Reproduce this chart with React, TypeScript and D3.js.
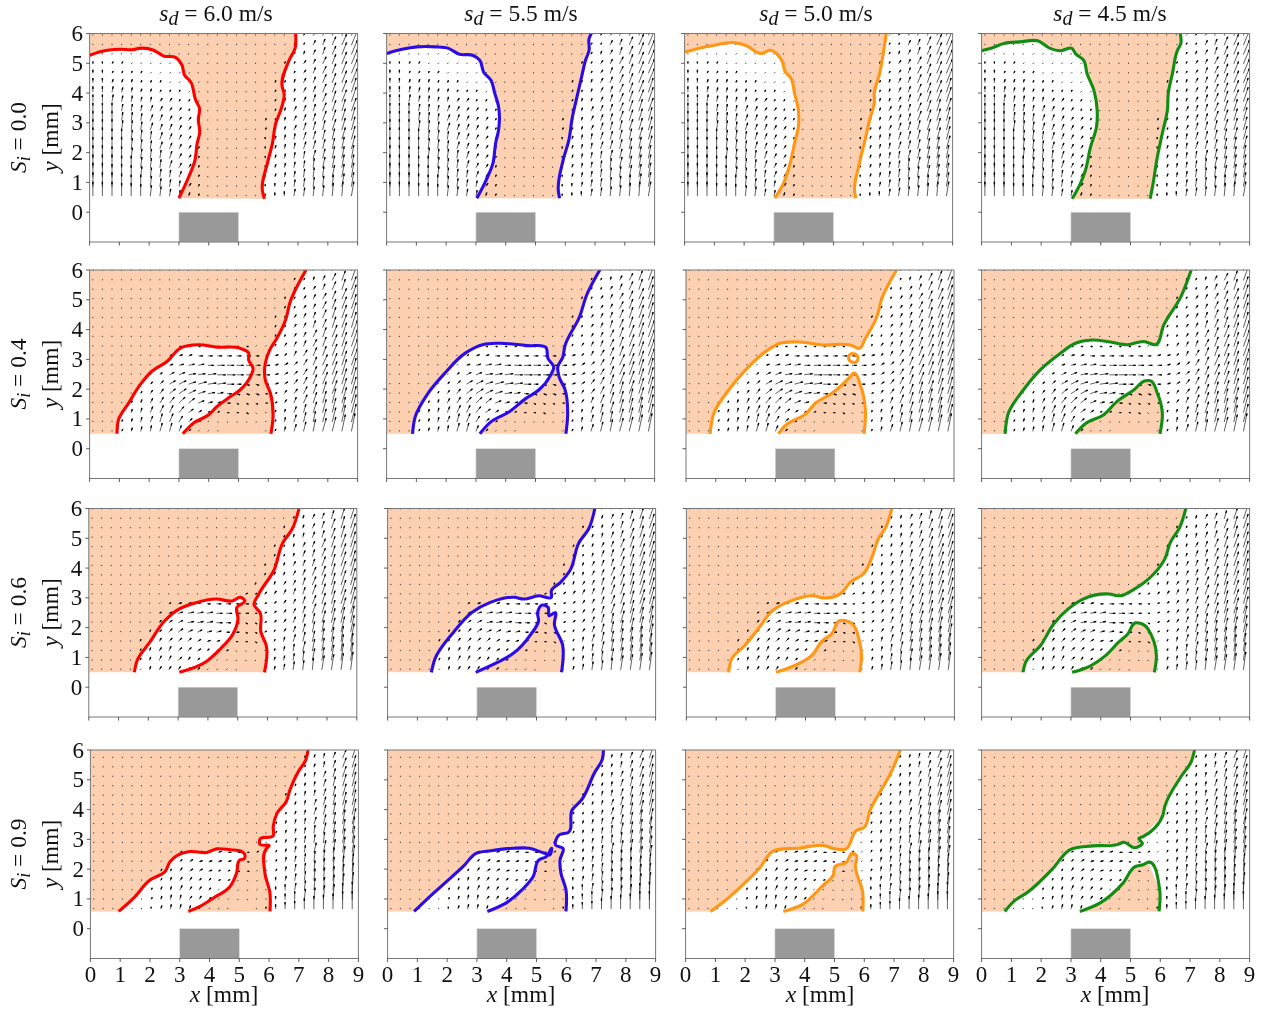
import React from "react";
import * as d3 from "d3";

type P = [number, number];

const speedLabels = ["6.0", "5.5", "5.0", "4.5"];
const swirlLabels = ["0.0", "0.4", "0.6", "0.9"];
const lineColors = ["#ff0000", "#2a0ce8", "#ff9614", "#128c12"];
const xTicks = [0, 1, 2, 3, 4, 5, 6, 7, 8, 9];
const yTicks = [0, 1, 2, 3, 4, 5, 6];
const panelLefts = [
  [89.6, 386.6, 684.6, 981.6],
  [89.6, 386.6, 686, 981.6],
  [88.8, 387.6, 686.4, 981.6],
  [90.4, 387.6, 685.6, 981.6],
];
const panelTops = [33.5, 270, 508.5, 750];
const baseY = [0.46, 0.5, 0.5, 0.58];
const titleX = [216, 521, 816, 1110];
const xLabelX = [224, 521, 820, 1115];

// Flame-front contours (x mm, y mm)
const r1c1A: P[] = [[0,5.27],[.36,5.39],[1.03,5.47],[1.48,5.46],[1.65,5.5],[2.15,5.44],[2.49,5.24],[2.88,5.2],[3.1,4.94],[3.19,4.6],[3.39,4.38],[3.56,3.77],[3.69,3.49],[3.65,3.1],[3.7,2.7],[3.61,2.3],[3.54,1.75],[3.33,1.19],[3,.47]];
const r1c1B: P[] = [[5.87,.45],[5.8,.75],[5.97,1.64],[6.14,2.31],[6.25,2.98],[6.42,3.43],[6.53,4],[6.47,4.2],[6.7,5.1],[6.9,5.5],[6.92,6]];
const r1c2A: P[] = [[0,5.33],[.52,5.47],[1.02,5.55],[1.64,5.55],[2.08,5.5],[2.45,5.3],[2.89,5.27],[3.13,5.1],[3.26,4.7],[3.5,4.44],[3.63,4],[3.76,3.54],[3.76,2.76],[3.66,2.31],[3.57,1.64],[3.32,1.03],[3.03,.47]];
const r1c2B: P[] = [[5.81,.47],[5.77,.69],[5.93,1.75],[6.12,2.42],[6.24,3.2],[6.37,3.77],[6.55,4.55],[6.68,5.1],[6.8,5.44],[6.8,5.83],[6.87,6]];
const r1c3A: P[] = [[0,5.38],[.46,5.5],[.96,5.6],[1.7,5.69],[2.08,5.59],[2.57,5.33],[2.89,5.44],[3.26,5.1],[3.38,4.72],[3.57,4.5],[3.69,4],[3.82,3.43],[3.82,2.87],[3.69,2.31],[3.57,1.75],[3.32,.97],[3.03,.47]];
const r1c3B: P[] = [[5.75,.47],[5.71,.69],[5.87,1.64],[6.06,2.42],[6.24,3.2],[6.37,3.65],[6.37,4],[6.55,4.66],[6.68,5.39],[6.77,6]];
const r1c4A: P[] = [[0,5.42],[.39,5.53],[.73,5.66],[1.29,5.72],[1.91,5.75],[2.3,5.5],[2.64,5.42],[3.04,5.5],[3.15,5.33],[3.43,5.1],[3.54,4.66],[3.77,4.1],[3.88,3.43],[3.86,2.87],[3.66,2.2],[3.49,1.42],[3.32,.97],[3.04,.45]];
const r1c4B: P[] = [[5.66,.45],[5.74,.86],[5.91,1.9],[6.07,2.65],[6.24,3.43],[6.27,4],[6.41,4.66],[6.58,5.44],[6.69,5.66],[6.67,6]];

const r2c1A: P[] = [[.92,.5],[.97,.97],[1.31,1.53],[1.7,2.15],[2.09,2.6],[2.6,2.93],[3.05,3.38],[3.66,3.49],[4.28,3.41],[5.06,3.37],[5.34,3.21],[5.34,2.98],[5.49,2.7],[5.4,2.42],[5.06,1.98],[4.73,1.75],[4.28,1.42],[4,1.14],[3.49,.86],[3.13,.5]];
const r2c1B: P[] = [[6.09,.5],[6.16,1.08],[6.07,1.87],[5.9,2.31],[5.9,2.87],[6.05,3.32],[6.29,3.71],[6.58,4.32],[6.74,4.94],[7.02,5.55],[7.27,6]];
const r2c2A: P[] = [[.87,.5],[.96,1.07],[1.39,1.86],[1.95,2.53],[2.63,3.2],[3.25,3.5],[3.75,3.54],[4.74,3.46],[5.36,3.39],[5.42,3.03],[5.61,2.75],[5.48,2.42],[5.11,1.97],[4.68,1.69],[4.12,1.24],[3.5,.9],[3.13,.5]];
const r2c2B: P[] = [[6.02,.5],[6.08,1.13],[5.98,2.02],[5.79,2.42],[5.75,2.75],[5.92,3.08],[5.98,3.42],[6.48,4.43],[6.72,5.16],[7.16,6]];
const r2c3A: P[] = [[.81,.5],[.93,1.18],[1.43,1.97],[2.05,2.7],[2.67,3.26],[3.16,3.54],[3.66,3.59],[4.65,3.48],[5.52,3.48],[5.83,3.37],[6.02,3.7],[6.39,4.38],[6.58,5.05],[7.07,6]];
const r2c3B: P[] = [[3.1,.5],[3.35,.79],[4.03,1.18],[4.34,1.52],[4.9,1.86],[5.52,2.42],[5.62,2.53],[5.89,2.03],[6.02,1.35],[5.98,.5]];
const r2c3Ring: P[] = [[5.62,3.2],[5.74,3.14],[5.78,3.03],[5.72,2.92],[5.6,2.9],[5.49,2.96],[5.46,3.08],[5.52,3.17],[5.62,3.2]];
const r2c4A: P[] = [[.79,.5],[.9,1.2],[1.4,1.97],[1.97,2.65],[2.64,3.2],[3.15,3.54],[3.7,3.65],[4.33,3.58],[4.89,3.49],[5.45,3.6],[5.84,3.49],[6.12,4.16],[6.69,5.1],[7.04,6]];
const r2c4B: P[] = [[3.15,.5],[3.48,.84],[4.1,1.14],[4.55,1.59],[5.11,1.97],[5.5,2.28],[5.67,2.28],[5.9,1.87],[6.07,1.2],[5.99,.5]];

const r3c1A: P[] = [[1.53,.5],[1.62,.89],[2.05,1.51],[2.55,2.23],[3.04,2.63],[3.54,2.82],[4.29,2.96],[4.84,2.9],[5.09,3.02],[5.24,2.9],[4.97,2.68],[5.01,2.29],[4.84,1.79],[4.41,1.28],[3.91,.84],[3.04,.5]];
const r3c1B: P[] = [[5.9,.5],[5.96,1.4],[5.78,1.85],[5.75,2.51],[5.55,2.76],[5.71,3.13],[6.21,3.91],[6.52,4.86],[6.83,5.31],[7.06,6]];
const r3c2A: P[] = [[1.47,.5],[1.59,.95],[2.21,1.84],[2.83,2.51],[3.45,2.85],[4.26,3.02],[4.57,2.96],[5.07,3.07],[5.5,3.02],[5.5,3.24],[5.81,3.52],[6.12,3.91],[6.43,4.86],[6.75,5.31],[6.96,6]];
const r3c2B: P[] = [[2.96,.5],[3.7,.84],[4.2,1.12],[4.82,1.79],[5.07,2.23],[5.04,2.51],[5.2,2.76],[5.39,2.68],[5.42,2.4],[5.63,2.51],[5.6,2.12],[5.88,1.4],[5.84,.5]];
const r3c3A: P[] = [[1.42,.5],[1.52,.95],[1.96,1.4],[2.45,2.01],[2.89,2.57],[3.51,2.9],[4.26,3.07],[4.57,3],[5.19,3.15],[5.5,3.52],[5.94,3.8],[6.25,4.41],[6.44,4.97],[6.69,5.36],[6.9,6]];
const r3c3B: P[] = [[3.01,.5],[3.76,.78],[4.2,1.06],[4.57,1.56],[4.88,1.79],[5.13,2.23],[5.5,2.18],[5.82,1.51],[5.88,1.06],[5.82,.5]];
const r3c4A: P[] = [[1.39,.5],[1.48,.84],[1.98,1.4],[2.42,2.12],[2.91,2.63],[3.41,2.96],[4.28,3.13],[4.66,3.07],[5.09,3.27],[5.78,3.8],[6.15,4.3],[6.34,4.86],[6.65,5.36],[6.86,6]];
const r3c4B: P[] = [[3.04,.5],[3.66,.72],[4.16,1.06],[4.6,1.51],[4.91,1.79],[5.16,2.16],[5.4,2.12],[5.78,1.56],[5.87,1.06],[5.8,.5]];

const r4c1A: P[] = [[.95,.58],[1.45,1.03],[2.01,1.64],[2.51,1.92],[2.68,2.26],[2.9,2.45],[3.35,2.59],[3.91,2.56],[4.24,2.68],[4.69,2.65],[5.08,2.59],[5.19,2.48],[5.17,2.35],[5.02,2.31],[4.91,1.87],[4.69,1.42],[4.13,1.03],[3.68,.75],[3.29,.58]];
const r4c1B: P[] = [[6.03,.58],[6.03,1.2],[5.86,1.87],[5.92,2.7],[6,2.78],[5.69,2.84],[5.69,3],[6.14,3.12],[6.14,3.43],[6.27,3.88],[6.58,4.27],[6.7,4.66],[6.98,5.27],[7.23,5.66],[7.31,6]];
const r4c2A: P[] = [[.89,.58],[1.3,.97],[1.92,1.53],[2.54,2.09],[2.97,2.53],[3.47,2.62],[4.21,2.7],[4.77,2.7],[5.27,2.53],[5.45,2.48],[5.51,2.7],[5.33,2.42],[5.08,2.31],[4.89,1.75],[4.52,1.31],[3.97,.86],[3.35,.58]];
const r4c2B: P[] = [[5.99,.58],[5.99,1.31],[5.82,1.87],[5.79,2.31],[5.89,2.7],[5.64,2.81],[5.76,3.15],[6.07,3.23],[6.2,3.99],[6.51,4.32],[6.94,5.22],[7.22,5.72],[7.25,6]];
const r4c3A: P[] = [[.84,.58],[1.3,.92],[1.98,1.53],[2.48,2.03],[2.91,2.59],[3.78,2.7],[4.71,2.78],[4.96,2.69],[5.37,2.67],[5.77,3.32],[5.95,3.37],[6.2,3.99],[6.94,5.33],[7.21,6]];
const r4c3B: P[] = [[3.28,.58],[3.9,.8],[4.58,1.42],[4.96,1.81],[5.02,2.09],[5.39,2.22],[5.61,2.53],[5.72,2.48],[5.7,2.09],[5.95,1.2],[5.95,.58]];
const r4c4A: P[] = [[.78,.58],[1.12,.95],[1.51,1.2],[2.4,2.03],[2.96,2.65],[3.74,2.78],[4.64,2.85],[4.75,2.9],[5.14,2.72],[5.4,2.87],[5.28,3.03],[5.42,3.09],[6.09,3.82],[6.15,4.1],[6.7,5.11],[7.04,5.61],[7.15,6]];
const r4c4B: P[] = [[3.3,.58],[3.97,.86],[4.75,1.53],[5.17,2.09],[5.42,2.15],[5.59,2.23],[5.98,1.31],[5.96,.58]];

const contours: P[][][][] = [
  [[r1c1A, r1c1B], [r1c2A, r1c2B], [r1c3A, r1c3B], [r1c4A, r1c4B]],
  [[r2c1A, r2c1B], [r2c2A, r2c2B], [r2c3A, r2c3B, r2c3Ring], [r2c4A, r2c4B]],
  [[r3c1A, r3c1B], [r3c2A, r3c2B], [r3c3A, r3c3B], [r3c4A, r3c4B]],
  [[r4c1A, r4c1B], [r4c2A, r4c2B], [r4c3A, r4c3B], [r4c4A, r4c4B]],
];

// Velocity vectors: one table for each swirl row. Rows run from y = 6 down, columns from x = 0 right.
const u1 = [
[0,0,0,0,0,0,0,0,0,0,0,0,0,0,0,0,0,0,0,0,0,1,1,2,2,3,4,5],
[0,0,0,0,0,0,0,0,0,0,0,0,0,0,0,0,0,0,0,0,1,1,1,2,2,3,4,5],
[0,0,0,0,0,1,1,0,0,0,0,0,0,0,0,0,0,0,0,0,1,1,1,2,2,3,4,5],
[0,0,1,1,1,1,1,1,1,1,1,0,0,0,0,0,0,0,0,0,1,1,2,2,3,3,4,5],
[0,0,1,1,1,1,1,1,1,1,1,0,0,0,0,0,0,0,0,1,1,1,2,2,3,3,4,5],
[0,0,1,1,1,1,1,1,1,1,1,1,0,0,0,0,0,0,0,1,1,1,2,2,3,3,4,5],
[0,0,1,1,1,1,1,1,1,1,1,1,0,0,0,0,0,0,0,1,1,1,2,2,3,3,4,4],
[0,0,1,1,1,1,1,2,2,1,1,1,0,0,0,0,0,0,1,1,1,1,2,2,3,3,4,4],
[0,0,0,1,1,1,2,2,2,2,1,1,0,0,0,0,0,0,1,1,1,2,2,2,3,3,3,4],
[0,0,0,1,1,1,2,2,2,2,2,1,0,0,0,0,0,0,1,1,1,2,2,2,3,3,3,3],
[0,0,0,1,1,1,2,2,2,2,2,1,0,0,0,0,0,0,1,1,1,2,2,2,2,3,3,3],
[0,0,0,0,1,1,1,2,2,2,2,1,0,0,0,0,0,0,0,1,1,1,2,2,2,2,3,3],
[0,0,0,0,1,1,1,2,2,2,2,1,0,0,0,0,0,0,0,1,1,1,2,2,2,2,2,3],
[0,0,0,0,1,1,1,1,2,2,2,1,0,0,0,0,0,0,0,1,1,1,1,2,2,2,2,2],
[0,0,0,0,0,1,1,1,2,2,2,1,0,0,0,0,0,0,0,1,1,1,1,1,2,2,2,2],
[0,0,0,0,0,1,1,1,1,2,2,1,0,0,0,0,0,0,0,1,1,1,1,1,1,2,2,2],
[0,0,0,0,0,0,1,1,1,1,2,1,0,0,0,0,0,0,0,0,1,1,1,1,1,1,2,2],
[0,0,0,0,0,0,1,1,1,1,1,1,0,0,0,0,0,0,0,0,0,1,1,1,1,1,1,2],
];
const v1 = [
[1,1,1,1,1,1,1,1,1,1,1,1,1,1,1,1,1,1,1,1,1,1,2,3,5,7,9,12],
[1,1,1,1,1,1,1,1,1,1,1,1,1,1,1,1,1,1,1,1,1,2,2,4,5,7,9,12],
[1,1,1,1,1,1,1,1,1,1,1,1,1,1,1,1,1,1,1,1,1,2,3,4,6,7,10,12],
[2,2,2,2,1,1,1,1,1,1,1,1,1,1,1,1,1,1,1,1,2,2,3,4,6,8,10,12],
[3,3,2,2,2,2,1,1,1,1,1,1,1,1,1,1,1,1,1,1,2,2,3,5,6,8,10,12],
[4,4,3,3,3,2,2,2,1,1,1,1,1,1,1,1,1,1,1,2,2,3,4,5,7,8,10,12],
[5,5,5,4,4,3,3,2,2,2,1,1,1,1,1,1,1,1,1,2,2,3,4,5,7,8,10,12],
[6,6,6,5,5,4,4,3,3,2,2,1,1,1,1,1,1,1,1,2,3,3,4,6,7,9,10,12],
[7,7,7,6,6,5,5,4,3,3,2,2,1,1,1,1,1,1,1,2,3,4,5,6,7,9,10,11],
[8,8,8,7,7,6,5,5,4,3,3,2,1,1,1,1,1,1,2,2,3,4,5,6,8,9,10,11],
[9,9,9,8,8,7,6,5,5,4,3,2,1,1,1,1,1,1,2,2,3,4,6,7,8,9,10,11],
[10,10,9,9,8,8,7,6,5,4,3,2,1,1,1,1,1,1,2,3,4,5,6,7,8,9,10,11],
[10,10,10,10,9,8,7,6,5,4,3,2,1,1,1,1,1,1,2,3,4,5,6,7,8,9,10,11],
[11,11,10,10,9,8,8,7,6,4,3,2,1,1,1,1,1,1,2,3,4,5,6,7,8,10,10,11],
[11,11,11,10,10,9,8,7,6,4,3,2,1,1,1,1,1,1,2,3,4,5,6,8,9,10,11,11],
[12,12,11,11,10,9,8,7,6,5,3,2,1,1,1,1,1,1,2,3,4,5,7,8,9,10,11,12],
[12,12,12,11,10,10,9,7,6,5,3,2,1,1,1,1,1,1,2,3,4,6,7,8,9,10,11,12],
[12,12,12,11,11,10,9,8,6,5,3,2,1,1,1,1,1,1,2,3,4,6,7,8,9,11,12,12],
];
const u2 = [
[0,0,0,0,0,0,0,0,0,0,0,0,0,0,0,0,0,0,0,0,0,0,1,1,2,2,3,4],
[0,0,0,0,0,0,0,0,0,0,0,0,0,0,0,0,0,0,0,0,0,1,1,1,2,3,3,4],
[0,0,0,0,0,0,0,0,0,0,0,0,0,0,0,0,0,0,0,0,0,1,1,2,2,3,3,4],
[0,0,0,0,0,0,0,0,0,0,0,0,0,0,0,0,0,0,0,0,1,1,2,2,3,3,4,4],
[0,0,0,0,0,0,0,0,0,0,0,0,0,0,0,0,0,0,0,0,1,1,2,2,3,3,4,4],
[0,0,0,0,0,0,0,0,0,0,0,0,0,0,0,0,0,0,0,1,1,2,2,2,3,3,4,4],
[0,0,0,0,0,0,0,0,0,0,0,0,0,0,0,0,0,0,0,1,1,2,2,2,3,3,4,4],
[0,0,0,0,0,0,0,0,0,0,0,0,0,0,0,0,0,0,0,1,1,2,2,3,3,4,4,5],
[0,0,0,0,0,0,0,0,0,2,2,2,2,2,2,2,2,1,1,1,2,2,2,3,3,4,4,5],
[0,0,0,0,0,0,0,0,2,3,3,4,4,4,4,4,4,3,3,3,2,2,3,3,3,4,4,5],
[0,0,0,0,0,0,0,1,3,4,5,5,5,6,6,6,5,4,4,3,3,3,3,3,4,4,4,5],
[0,0,0,0,0,0,1,2,4,5,6,6,7,7,7,6,5,4,4,3,3,3,3,3,4,4,4,4],
[0,0,0,0,0,1,2,3,5,6,6,7,7,7,6,4,3,3,3,3,3,3,3,3,4,4,4,4],
[0,0,0,0,0,1,2,3,5,6,6,6,6,5,4,3,3,3,2,2,2,3,3,3,3,4,4,4],
[0,0,0,0,1,1,2,3,4,5,5,5,4,3,3,2,2,2,2,2,2,2,3,3,3,3,4,4],
[0,0,0,1,1,1,2,3,3,4,4,3,2,2,2,2,2,1,1,1,1,2,2,3,3,3,3,4],
[0,0,0,1,1,1,2,2,3,3,3,2,1,1,1,1,1,1,1,1,1,2,2,2,3,3,3,4],
[0,0,0,1,1,1,1,2,2,2,2,1,1,1,0,0,0,0,1,1,1,2,2,2,3,3,3,3],
];
const v2 = [
[1,1,1,1,1,1,1,1,1,1,1,1,1,1,1,1,1,1,1,1,1,1,2,3,4,6,8,10],
[1,1,1,1,1,1,1,1,1,1,1,1,1,1,1,1,1,1,1,1,1,2,2,3,4,6,8,11],
[1,1,1,1,1,1,1,1,1,1,1,1,1,1,1,1,1,1,1,1,1,2,2,3,5,7,9,11],
[1,1,1,1,1,1,1,1,1,1,1,1,1,1,1,1,1,1,1,1,2,2,3,4,5,7,9,12],
[1,1,1,1,1,1,1,1,1,1,1,1,1,1,1,1,1,1,1,1,2,2,3,4,6,8,10,12],
[1,1,1,1,1,1,1,1,1,1,1,1,1,1,1,1,1,1,1,2,2,3,4,5,7,9,11,13],
[1,1,1,1,1,1,1,1,1,1,1,1,1,1,1,1,1,1,1,2,2,3,4,6,7,9,11,13],
[1,1,1,1,1,1,1,1,1,1,1,1,1,1,1,1,1,1,1,2,2,3,4,6,8,10,12,14],
[1,1,1,1,1,1,1,1,1,0,0,0,0,0,0,0,0,1,1,2,3,4,5,6,8,10,12,14],
[1,1,1,1,1,1,1,1,1,1,1,0,0,0,0,0,0,0,1,1,2,4,5,7,8,10,12,14],
[1,1,1,1,1,1,1,1,1,1,1,1,0,0,0,0,0,0,0,1,2,3,5,7,9,10,12,14],
[1,1,1,1,1,1,1,2,2,2,1,1,1,0,0,0,0,0,0,1,2,3,5,7,9,11,13,14],
[1,1,1,1,1,1,2,3,3,3,2,2,1,1,0,0,-1,-1,0,1,2,4,6,8,10,11,13,14],
[1,1,1,1,1,2,3,4,4,4,3,2,1,1,0,-1,-1,-1,0,1,3,4,6,8,10,11,13,14],
[1,1,1,1,2,3,4,5,5,5,4,2,1,1,0,-1,-1,-1,0,1,3,5,7,9,10,12,13,14],
[1,1,1,2,3,4,5,6,6,5,3,2,1,1,0,0,-1,-1,0,2,3,5,7,9,11,12,13,15],
[1,1,1,2,3,4,5,7,7,5,3,1,1,0,0,0,0,0,1,2,4,6,8,9,11,12,14,15],
[1,1,1,2,3,4,5,7,7,5,2,1,1,1,0,0,0,0,1,2,4,6,8,10,11,12,14,15],
];
const u3 = [
[0,0,0,0,0,0,0,0,0,0,0,0,0,0,0,0,0,0,0,0,0,1,1,2,2,2,3,4],
[0,0,0,0,0,0,0,0,0,0,0,0,0,0,0,0,0,0,0,0,0,1,1,2,2,2,3,4],
[0,0,0,0,0,0,0,0,0,0,0,0,0,0,0,0,0,0,0,0,1,1,1,2,2,3,3,4],
[0,0,0,0,0,0,0,0,0,0,0,0,0,0,0,0,0,0,0,0,1,1,1,2,2,3,3,4],
[0,0,0,0,0,0,0,0,0,0,0,0,0,0,0,0,0,0,0,1,1,1,2,2,3,3,4,4],
[0,0,0,0,0,0,0,0,0,0,0,0,0,0,0,0,0,0,0,1,1,1,2,2,3,3,4,4],
[0,0,0,0,0,0,0,0,0,0,0,0,0,0,0,0,0,0,1,1,1,2,2,2,3,3,4,4],
[0,0,0,0,0,0,0,0,0,0,0,0,0,0,0,0,0,0,1,1,1,2,2,3,3,3,4,4],
[0,0,0,0,0,0,0,0,0,0,0,0,0,0,0,0,0,1,1,1,2,2,2,3,3,3,4,4],
[0,0,0,0,0,0,0,0,0,0,0,0,0,0,0,1,2,2,2,2,2,2,2,3,3,3,4,4],
[0,0,0,0,0,0,0,1,2,3,3,3,3,4,4,3,3,2,2,2,2,2,2,3,3,3,4,4],
[0,0,0,0,0,0,1,2,3,4,5,5,5,5,5,4,3,2,2,2,2,2,2,3,3,3,4,4],
[0,0,0,0,0,0,1,2,3,4,5,5,5,5,4,3,2,2,2,2,2,2,2,2,3,3,3,3],
[0,0,0,0,0,0,1,2,3,4,4,4,4,4,3,3,2,2,2,1,2,2,2,2,2,3,3,3],
[0,0,0,0,0,1,1,2,3,3,3,3,3,3,3,2,2,2,1,1,1,2,2,2,2,2,2,3],
[0,0,0,0,0,1,1,2,2,3,3,3,2,2,2,1,1,1,1,1,1,1,2,2,2,2,2,2],
[0,0,0,0,0,1,1,2,2,3,2,2,2,1,1,1,1,1,1,1,1,1,1,2,2,2,2,2],
[0,0,0,0,0,1,1,2,2,2,2,2,1,1,1,1,0,0,0,1,1,1,1,1,2,2,2,2],
];
const v3 = [
[1,1,1,1,1,1,1,1,1,1,1,1,1,1,1,1,1,1,1,1,1,2,2,3,4,6,8,11],
[1,1,1,1,1,1,1,1,1,1,1,1,1,1,1,1,1,1,1,1,1,2,3,4,5,7,9,12],
[1,1,1,1,1,1,1,1,1,1,1,1,1,1,1,1,1,1,1,1,2,2,3,4,6,8,10,12],
[1,1,1,1,1,1,1,1,1,1,1,1,1,1,1,1,1,1,1,1,2,3,4,5,6,8,10,12],
[1,1,1,1,1,1,1,1,1,1,1,1,1,1,1,1,1,1,1,2,2,3,4,5,7,9,11,13],
[1,1,1,1,1,1,1,1,1,1,1,1,1,1,1,1,1,1,1,2,2,3,5,6,7,9,11,13],
[1,1,1,1,1,1,1,1,1,1,1,1,1,1,1,1,1,1,2,2,3,4,5,6,8,10,12,13],
[1,1,1,1,1,1,1,1,1,1,1,1,1,1,1,1,1,1,2,3,3,4,5,7,8,10,12,14],
[1,1,1,1,1,1,1,1,1,1,1,1,1,1,1,1,1,2,2,3,3,4,6,7,9,10,12,14],
[1,1,1,1,1,1,1,1,1,1,1,1,1,1,1,1,1,1,2,3,4,5,6,8,9,11,12,14],
[1,1,1,1,1,1,1,1,1,1,1,1,0,0,0,0,0,0,1,2,3,4,6,7,9,11,12,14],
[1,1,1,1,1,1,1,1,1,1,1,1,1,0,0,0,0,0,1,2,3,4,6,8,9,11,13,14],
[1,1,1,1,1,1,1,2,2,2,1,1,1,0,0,0,-1,-1,1,2,3,5,7,8,10,12,13,14],
[1,1,1,1,1,1,2,2,3,3,2,2,1,1,0,0,-1,-1,1,2,3,5,7,9,10,12,13,14],
[1,1,1,1,1,2,2,3,3,3,3,2,1,1,1,0,0,-1,1,2,4,6,8,9,11,12,13,15],
[1,1,1,1,1,2,3,3,4,3,3,2,2,1,1,0,0,0,1,2,4,6,8,10,11,12,14,15],
[1,1,1,1,1,2,3,4,4,3,3,2,1,1,1,0,0,0,1,3,4,6,8,10,11,13,14,15],
[1,1,1,1,1,1,3,3,3,3,2,2,1,1,1,0,0,0,1,3,5,7,8,10,12,13,14,15],
];
const u4 = [
[0,0,0,0,0,0,0,0,0,0,0,0,0,0,0,0,0,0,0,0,0,0,0,1,1,2,2,3],
[0,0,0,0,0,0,0,0,0,0,0,0,0,0,0,0,0,0,0,0,0,0,1,1,1,2,3,3],
[0,0,0,0,0,0,0,0,0,0,0,0,0,0,0,0,0,0,0,0,0,0,1,1,1,2,3,3],
[0,0,0,0,0,0,0,0,0,0,0,0,0,0,0,0,0,0,0,0,0,1,1,1,2,2,3,3],
[0,0,0,0,0,0,0,0,0,0,0,0,0,0,0,0,0,0,0,0,0,1,1,1,2,2,3,3],
[0,0,0,0,0,0,0,0,0,0,0,0,0,0,0,0,0,0,0,0,1,1,1,1,2,2,3,3],
[0,0,0,0,0,0,0,0,0,0,0,0,0,0,0,0,0,0,0,0,1,1,1,2,2,2,3,3],
[0,0,0,0,0,0,0,0,0,0,0,0,0,0,0,0,0,0,0,1,1,1,1,2,2,2,3,3],
[0,0,0,0,0,0,0,0,0,0,0,0,0,0,0,0,0,0,0,1,1,1,1,2,2,2,2,3],
[0,0,0,0,0,0,0,0,0,0,0,0,0,0,0,0,0,0,0,1,1,1,1,1,2,2,2,2],
[0,0,0,0,0,0,0,0,0,0,0,0,0,0,0,0,0,0,0,1,1,1,1,1,1,2,2,2],
[0,0,0,0,0,0,0,0,1,2,2,3,3,3,3,3,2,2,1,1,1,1,1,2,2,2,2,2],
[0,0,0,0,0,0,0,1,2,2,3,3,3,3,3,2,2,1,1,1,1,1,1,1,1,1,2,2],
[0,0,0,0,0,0,0,1,1,2,3,3,3,2,2,2,2,1,1,1,1,1,1,1,1,1,1,1],
[0,0,0,0,0,0,0,1,1,2,2,2,2,2,2,1,1,1,1,0,1,1,1,1,1,1,1,1],
[0,0,0,0,0,0,1,1,1,2,2,2,2,1,1,1,1,1,0,0,0,1,1,1,1,1,1,1],
[0,0,0,0,0,0,1,1,1,1,2,2,2,1,1,1,1,0,0,0,0,0,1,1,1,1,0,0],
[0,0,0,0,0,0,0,1,1,1,1,1,1,1,0,0,0,0,0,0,0,0,0,0,0,0,0,0],
];
const v4 = [
[1,1,1,1,1,1,1,1,1,1,1,1,1,1,1,1,1,1,1,1,1,1,1,2,3,4,6,8],
[1,1,1,1,1,1,1,1,1,1,1,1,1,1,1,1,1,1,1,1,1,1,2,3,4,5,7,9],
[1,1,1,1,1,1,1,1,1,1,1,1,1,1,1,1,1,1,1,1,1,1,2,3,5,6,8,10],
[1,1,1,1,1,1,1,1,1,1,1,1,1,1,1,1,1,1,1,1,1,2,3,4,5,7,9,11],
[1,1,1,1,1,1,1,1,1,1,1,1,1,1,1,1,1,1,1,1,1,2,3,4,6,8,10,12],
[1,1,1,1,1,1,1,1,1,1,1,1,1,1,1,1,1,1,1,1,2,2,4,5,6,8,10,12],
[1,1,1,1,1,1,1,1,1,1,1,1,1,1,1,1,1,1,1,1,2,3,4,5,7,9,11,13],
[1,1,1,1,1,1,1,1,1,1,1,1,1,1,1,1,1,1,1,2,2,3,4,6,8,10,12,13],
[1,1,1,1,1,1,1,1,1,1,1,1,1,1,1,1,1,1,1,2,3,4,5,6,8,10,12,13],
[1,1,1,1,1,1,1,1,1,1,1,1,1,1,1,1,1,1,1,2,3,4,5,7,9,10,12,14],
[1,1,1,1,1,1,1,1,1,1,1,1,1,1,1,1,1,1,1,2,3,4,6,7,9,11,12,14],
[1,1,1,1,1,1,1,1,1,1,1,1,1,1,0,0,0,1,1,2,3,5,6,8,10,11,13,14],
[1,1,1,1,1,1,1,1,2,2,2,1,1,1,1,0,0,1,1,2,4,5,7,9,10,12,13,14],
[1,1,1,1,1,1,1,2,2,3,2,2,1,1,1,0,0,1,1,2,4,6,7,9,11,12,13,15],
[1,1,1,1,1,1,1,2,3,3,3,2,2,1,1,0,0,0,1,3,4,6,8,10,11,12,14,15],
[1,1,1,1,1,1,2,3,3,4,3,3,2,1,1,0,0,1,1,3,5,6,8,10,11,13,14,15],
[1,1,1,1,1,1,2,3,4,4,3,3,2,1,1,0,0,1,1,3,5,7,9,10,12,13,14,15],
[1,1,1,1,1,1,2,3,4,4,3,2,1,1,1,0,0,1,2,4,6,7,9,11,12,13,15,15],
];
const fieldU = [u1, u2, u3, u4];
const fieldV = [v1, v2, v3, v4];

const WIDTH = 268;
const HEIGHT = 208.5;
const ARROW_SCALE = 1.2;
const FONT = "'Liberation Serif','Times New Roman',serif";

function Panel({ r, c }: { r: number; c: number }) {
  const left = panelLefts[r][c];
  const top = panelTops[r];
  const x = d3.scaleLinear().domain([0, 9]).range([left, left + WIDTH]);
  const y = d3.scaleLinear().domain([-1, 6]).range([top + HEIGHT, top]);
  const lines = contours[r][c];
  const base = baseY[r];
  const ln = d3.line<P>().x((d) => x(d[0])).y((d) => y(d[1]));
  const smooth = d3.line<P>().x((d) => x(d[0])).y((d) => y(d[1])).curve(d3.curveCatmullRom.alpha(1));
  const [A, B] = lines;
  let rings: P[][];
  if (r === 0) rings = [[...A, ...B, [0, 6]]];
  else if (A[A.length - 1][1] > 5) rings = [[[0, base], ...A, [0, 6]], B];
  else rings = [[[0, base], ...A, ...B, [0, 6]]];
  const fillD = rings.map((g) => ln(g) + "Z").join("");

  const u = fieldU[r];
  const v = fieldV[r];
  const yStart = base + 0.08;
  let shafts = "";
  let heads = "";
  let dots = "";
  v.forEach((row, j) => {
    const yv = yStart + (v.length - 1 - j) * 0.317;
    row.forEach((vy, i) => {
      const dx = u[j][i] * ARROW_SCALE;
      const dy = vy * ARROW_SCALE;
      const x0 = x(0.11 + i * 0.3215);
      const y0 = y(yv);
      const len = Math.max(Math.hypot(dx, dy), 0.001);
      const x1 = x0 + dx;
      const y1 = y0 - dy;
      if (len < 1.8) {
        dots += `M${x0.toFixed(1)} ${y0.toFixed(1)}L${x1.toFixed(1)} ${y1.toFixed(1)}`;
      } else {
        shafts += `M${x0.toFixed(1)} ${y0.toFixed(1)}L${x1.toFixed(1)} ${y1.toFixed(1)}`;
        const h = Math.min(2.6, len * 0.7);
        heads += `M${(x1 - (dx / len) * h).toFixed(1)} ${(y1 + (dy / len) * h).toFixed(1)}L${x1.toFixed(1)} ${y1.toFixed(1)}`;
      }
    });
  });

  const clipId = `clip-${r}-${c}`;
  return (
    <g>
      <clipPath id={clipId}>
        <rect x={left} y={top} width={WIDTH} height={HEIGHT} />
      </clipPath>
      <path d={fillD} fill="#fcd0b0" clipPath={`url(#${clipId})`} />
      <g clipPath={`url(#${clipId})`} fill="none">
        <path d={dots} stroke="#333" strokeWidth={0.95} />
        <path d={shafts} stroke="#1c1c1c" strokeWidth={0.7} />
        <path d={heads} stroke="#000" strokeWidth={1.35} />
        {lines.map((l, k) => (
          <path key={k} d={smooth(l) as string} stroke={lineColors[c]} strokeWidth={3.1} strokeLinejoin="round" />
        ))}
      </g>
      <rect x={x(3)} y={y(0)} width={x(5) - x(3)} height={y(-1) - y(0)} fill="#999999" stroke="#d8d8d8" strokeWidth={0.6} />
      <rect x={left} y={top} width={WIDTH} height={HEIGHT} fill="none" stroke="#777" strokeWidth={1} />
      {xTicks.map((t) => (
        <line key={t} x1={x(t)} x2={x(t)} y1={top + HEIGHT} y2={top + HEIGHT + 3.5} stroke="#333" strokeWidth={0.8} />
      ))}
      {yTicks.map((t) => (
        <line key={t} x1={left - 3.5} x2={left} y1={y(t)} y2={y(t)} stroke="#333" strokeWidth={0.8} />
      ))}
      {r === 3 &&
        xTicks.map((t) => (
          <text key={t} x={x(t)} y={981.5} textAnchor="middle" fontSize={23}>
            {t}
          </text>
        ))}
      {c === 0 &&
        yTicks.map((t) => (
          <text key={t} x={left - 6.5} y={y(t) + 7.5} textAnchor="end" fontSize={23}>
            {t}
          </text>
        ))}
    </g>
  );
}

export default function App() {
  return (
    <svg
      width={1273}
      height={1014}
      viewBox="0 0 1273 1014"
      fontFamily={FONT}
      fill="#111"
      style={{ position: "absolute", left: 0, top: 0, filter: "blur(0.35px)" }}
    >
      <rect width={1273} height={1014} fill="#fff" />
      {swirlLabels.map((_, r) =>
        speedLabels.map((__, c) => <Panel key={`${r}-${c}`} r={r} c={c} />)
      )}
      {speedLabels.map((s, c) => (
        <text key={s} x={titleX[c]} y={21} textAnchor="middle" fontSize={23.5}>
          <tspan fontStyle="italic">s</tspan>
          <tspan fontStyle="italic" fontSize={20} dy={4}>d</tspan>
          <tspan dy={-4}>{` = ${s} m/s`}</tspan>
        </text>
      ))}
      {swirlLabels.map((s, r) => {
        const cy = panelTops[r] + 104;
        return (
          <g key={s}>
            <text transform={`translate(26,${cy}) rotate(-90)`} textAnchor="middle" fontSize={23.5}>
              <tspan fontStyle="italic">S</tspan>
              <tspan fontStyle="italic" fontSize={18} dy={4}>i</tspan>
              <tspan dy={-4}>{` = ${s}`}</tspan>
            </text>
            <text transform={`translate(58,${cy}) rotate(-90)`} textAnchor="middle" fontSize={23.5}>
              <tspan fontStyle="italic">y</tspan>
              <tspan> [mm]</tspan>
            </text>
          </g>
        );
      })}
      {xLabelX.map((xl) => (
        <text key={xl} x={xl} y={1002} textAnchor="middle" fontSize={23.5}>
          <tspan fontStyle="italic">x</tspan>
          <tspan> [mm]</tspan>
        </text>
      ))}
    </svg>
  );
}
